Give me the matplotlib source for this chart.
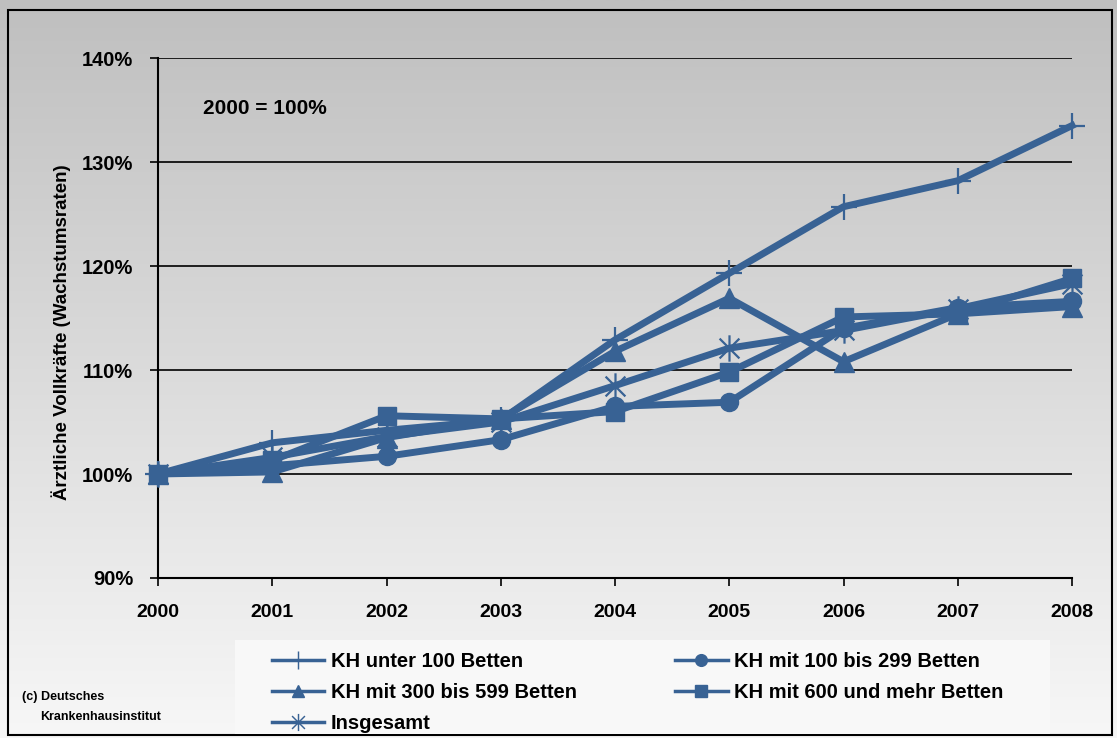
import numpy as np
import matplotlib
matplotlib.use("Agg")
import matplotlib.pyplot as plt
from matplotlib.colors import LinearSegmentedColormap
from matplotlib.lines import Line2D
from matplotlib.patches import Rectangle
from matplotlib.path import Path

# Ärztliche Vollkräfte nach Bettengrößenklassen, Index 2000 = 100%
years = [2000, 2001, 2002, 2003, 2004, 2005, 2006, 2007, 2008]
unter_100 = [100.0, 103.0, 104.2, 105.2, 112.9, 119.3, 125.7, 128.2, 133.5]
mit_100_299 = [100.0, 100.8, 101.7, 103.3, 106.5, 106.9, 114.0, 116.0, 116.6]
mit_300_599 = [100.0, 100.2, 103.5, 105.3, 111.8, 116.9, 110.8, 115.4, 116.1]
mit_600_mehr = [100.0, 101.3, 105.6, 105.3, 106.0, 109.8, 115.1, 115.4, 118.8]
insgesamt = [100.0, 101.6, 103.6, 105.0, 108.5, 112.1, 113.8, 115.9, 118.3]

labels = ["KH unter 100 Betten", "KH mit 100 bis 299 Betten",
          "KH mit 300 bis 599 Betten", "KH mit 600 und mehr Betten",
          "Insgesamt"]
y_ticks = [90, 100, 110, 120, 130, 140]

BLUE = "#386294"
plt.rcParams["font.family"] = ["Liberation Sans", "DejaVu Sans"]

# Excel-style asterisk: vertical stroke plus an X
ASTERISK = Path(
    [(0, -1), (0, 1), (-0.75, -0.75), (0.75, 0.75), (-0.75, 0.75), (0.75, -0.75)],
    [Path.MOVETO, Path.LINETO, Path.MOVETO, Path.LINETO, Path.MOVETO, Path.LINETO],
)

W, H = 1117, 738
fig = plt.figure(figsize=(W / 100, H / 100), dpi=100)

# grey vertical gradient behind everything
bg = fig.add_axes([0, 0, 1, 1], zorder=-10)
grad = np.linspace(0, 1, 256).reshape(-1, 1)
bg.imshow(grad, aspect="auto",
          cmap=LinearSegmentedColormap.from_list("g", ["#bfbfbf", "#f7f7f7"]),
          extent=[0, 1, 0, 1], origin="upper")
bg.set_xlim(0, 1)
bg.set_ylim(0, 1)
bg.axis("off")
bg.add_patch(Rectangle((8 / W, 3 / H), 1104 / W, 725 / H, fill=False,
                       edgecolor="black", lw=1.5))
# light panel behind the legend
bg.add_patch(Rectangle((235 / W, 4 / H), 815 / W, 94 / H, facecolor="#f8f8f8",
                       edgecolor="none"))

ax = fig.add_axes([158 / W, 1 - 578 / H, 914 / W, 520 / H])
ax.set_facecolor("none")

series = [
    (unter_100, "+", dict(markersize=19, markeredgewidth=1.6)),
    (mit_100_299, "o", dict(markersize=13)),
    (mit_300_599, "^", dict(markersize=14)),
    (mit_600_mehr, "s", dict(markersize=13)),
    (insgesamt, ASTERISK, dict(markersize=19, markeredgewidth=1.6)),
]
for vals, mk, kw in series:
    ax.plot(years, vals, color=BLUE, lw=5, marker=mk, markerfacecolor=BLUE,
            markeredgecolor=BLUE, clip_on=False, zorder=3, **kw)

ax.set_xlim(2000, 2008)
ax.set_ylim(90, 140)
ax.set_xticks(years)
ax.set_xticklabels([str(y) for y in years], fontsize=14, fontweight="bold")
ax.set_yticks(y_ticks)
ax.set_yticklabels([f"{v}%" for v in y_ticks], fontsize=14.5, fontweight="bold")
ax.tick_params(axis="x", direction="out", length=6, width=1.2, pad=13)
ax.tick_params(axis="y", direction="out", length=6, width=1.2, pad=12)
ax.yaxis.grid(True, color="black", lw=1.2)
ax.set_axisbelow(True)
for side in ("top", "right"):
    ax.spines[side].set_visible(False)
for side in ("left", "bottom"):
    ax.spines[side].set_linewidth(1.5)
    ax.spines[side].set_zorder(2)

ax.set_ylabel("Ärztliche Vollkräfte (Wachstumsraten)", fontsize=13.5,
              fontweight="bold")
ax.yaxis.set_label_coords(-0.095, 0.473)
fig.text(203 / W, 1 - 108 / H, "2000 = 100%", fontsize=15, fontweight="bold",
         va="center", ha="left")

# legend with thinner handles, ordered to fill rows as in the chart
handles = []
for (vals, mk, kw), lab in zip(series, labels):
    hk = {k: v * 0.65 for k, v in kw.items()}
    handles.append(Line2D([], [], color=BLUE, lw=2.5, marker=mk,
                          markerfacecolor=BLUE, markeredgecolor=BLUE,
                          label=lab, **hk))
order = [0, 2, 4, 1, 3]
fig.legend([handles[i] for i in order], [labels[i] for i in order],
           loc="upper left", bbox_to_anchor=(256 / W, 1 - 636 / H),
           ncol=2, frameon=False, handlelength=2.6,
           handletextpad=0.3, columnspacing=4.9, labelspacing=0.6,
           borderpad=0.3, prop=dict(weight="bold", size=14.5))

fig.text(22 / W, 1 - 697 / H, "(c) Deutsches", fontsize=9, fontweight="bold",
         va="center")
fig.text(40 / W, 1 - 717 / H, "Krankenhausinstitut", fontsize=9,
         fontweight="bold", va="center")

fig.savefig("out.png", dpi=100)
